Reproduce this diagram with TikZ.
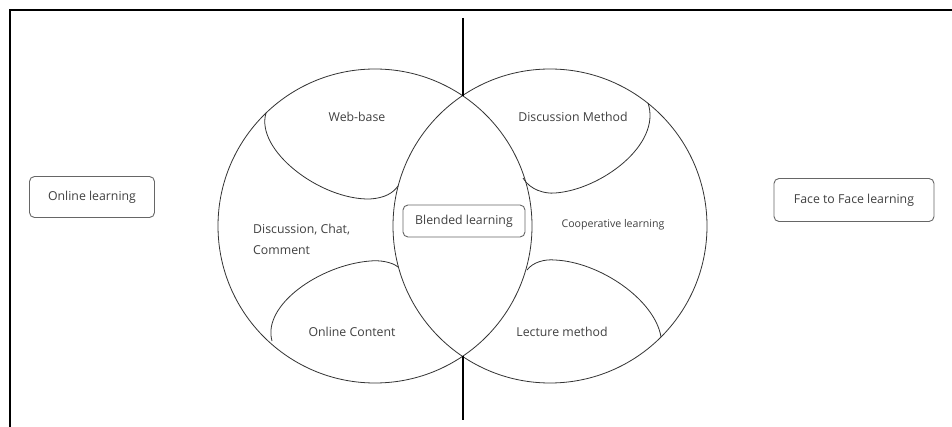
\documentclass[tikz,border=0pt]{standalone}
\usepackage{fontspec}
\setmainfont{Open Sans}
\begin{document}
\begin{tikzpicture}[x=1pt,y=-1pt,
  ring/.style={draw=black!80, line width=0.8pt},
  lobe/.style={draw=black!80, line width=0.8pt},
  lbl/.style={text=black!75, font=\fontsize{12.3}{14}\selectfont, inner sep=0pt},
  smalllbl/.style={text=black!75, font=\fontsize{10.6}{12}\selectfont, inner sep=0pt},
  box/.style={draw=black!60, line width=0.9pt, rounded corners=5pt, text=black!75,
    font=\fontsize{12.3}{14}\selectfont, align=center, inner sep=0pt}]
\useasboundingbox (0,0) rectangle (952,427);
\fill[white] (0,0) rectangle (952,427);
% frame
\draw[line width=2pt] (10,440) -- (10,10.5) -- (960,10.5);
% circles
\draw[ring] (375,226) circle[radius=157];
\draw[ring] (550,226) circle[radius=157];
% lobes left circle
\draw[lobe] (266,113) .. controls (255,150) and (320,200) .. (370,199)
  .. controls (385,198) and (393,193) .. (398,186);
\draw[lobe] (398,267) .. controls (392,262) and (380,260) .. (370,261)
  .. controls (320,265) and (262,305) .. (272,341);
% lobes right circle
\draw[lobe] (523,178) .. controls (530,190) and (545,194) .. (555,193)
  .. controls (600,190) and (662,145) .. (648,103);
\draw[lobe] (527,270) .. controls (533,262) and (545,259) .. (555,260)
  .. controls (600,262) and (655,300) .. (661,337);
% divider (interrupted inside the lens)
\coordinate (vtop) at (463,18);
\coordinate (vup) at (463,96);
\coordinate (vlow) at (463,356);
\coordinate (vbot) at (463,420);
\draw[line width=2.2pt] (vtop) -- (vup);
\draw[line width=2.2pt] (vlow) -- (vbot);
% labels
\node[lbl] (web) at (357,117) {Web-base};
\node[lbl, anchor=west, align=left] (dcc) at (253,239) {Discussion, Chat,\\[7pt]Comment};
\node[lbl] (oc) at (352,332) {Online Content};
\node[lbl] (dm) at (573,117) {Discussion Method};
\node[smalllbl] (coop) at (613,225) {Cooperative learning};
\node[lbl] (lm) at (562,332) {Lecture method};
% boxes
\node[box, minimum width=122pt, minimum height=32pt] (blend) at (464,221) {Blended learning};
\node[box, minimum width=125pt, minimum height=41pt] (online) at (92,197) {Online learning};
\node[box, minimum width=160pt, minimum height=43pt] (f2f) at (854,200) {Face to Face learning};
\end{tikzpicture}
\end{document}
